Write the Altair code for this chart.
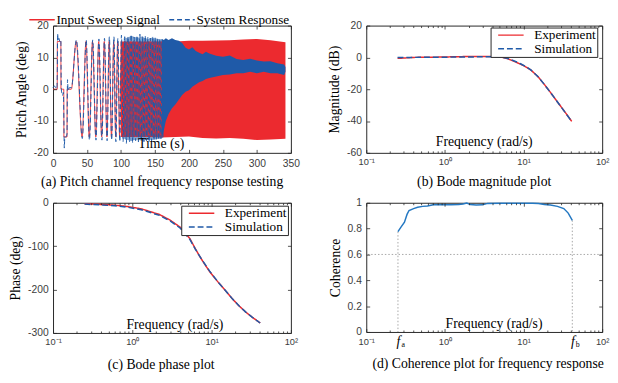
import altair as alt
import pandas as pd

RED = "#ec2a2f"
BLUE = "#1f5aa8"
COH_BLUE = "#2478c2"
DOT_GRAY = "#a6a6a6"
BOX = "#262626"
LABEL_GRAY = "#3c3c3c"
SERIF = "Liberation Serif"
SANS = "Liberation Sans"

# ---------------- (a) pitch channel sweep test ----------------
input_t = [0, 6.2, 6.4, 11.5, 11.7, 15.8, 16.0, 20.6, 20.8, 26.9, 34.1, 42.8, 48.5, 53.3, 58.1,
           62.9, 67.2, 71.6, 75.4, 79.3, 82.6, 86.0, 89.3, 92.2, 95.1, 98.0, 100.4, 102.8, 105.2,
           107.6, 110.0, 112.3, 114.6, 116.8, 119.0, 121.2, 123.3, 125.4, 127.5, 129.5, 131.5,
           133.5, 135.4, 137.3, 139.2, 141.1, 142.9, 144.7, 146.5, 148.3, 150.0, 151.7, 153.4,
           155.1, 156.8, 158.4, 160.0]
input_v = [0, 0, 15, 15, 0, 0, -15, -15, 0, 0, 15, -15, 15, -15, 15,
           -15, 15, -15, 15, -15, 15, -15, 15, -15, 15, -15, 15, -15, 15,
           -15, 15, -15, 15, -15, 15, -15, 15, -15, 15, -15, 15,
           -15, 15, -15, 15, -15, 15, -15, 15, -15, 15, -15, 15,
           -15, 15, -15, 15]
resp_t = [0, 2, 4, 5.6, 6.3, 6.8, 7.4, 8.6, 10.0, 11.5, 12.0, 12.6, 14.0, 15.2, 16.0, 16.6,
          17.3, 19.0, 20.6, 21.3, 22.2, 24.0, 27.0, 34.4, 43.1, 48.8, 53.6, 58.4, 63.2, 67.5,
          71.9, 75.7, 79.6, 82.9, 86.3, 89.6, 92.5, 95.4, 98.3, 100.7, 103.1, 105.5, 107.9, 110.3,
          112.6, 114.9, 117.1, 119.3, 121.5, 123.6, 125.7, 127.8, 129.8, 131.8, 133.8, 135.7,
          137.6, 139.5, 141.4, 143.2, 145.0, 146.8, 148.6, 150.3, 152.0, 153.7, 155.4, 157.1,
          158.7, 160.3]
resp_v = [0.5, 1.0, 0.5, 0.0, 6.0, 17.5, 15.2, 16.0, 15.0, 15.5, 3.0, -1.0, -2.0, -1.0, -10.0,
          -18.5, -15.0, -15.0, -14.0, 3.0, -0.5, 0.5, 0.5, 15.5, -15.5, 15.5, -16.0, 15.5, -16.0,
          15.8, -16.0, 16.0, -16.2, 16.5, -16.0, 16.5, -16.5, 16.0, -16.5, 17.0, -16.5, 16.5,
          -17.0, 16.5,
          -16.5, 17.2, -16.8, 16.4, -16.2, 16.9, -16.6, 17.3, -16.0, 16.6, -16.5, 16.8,
          -16.2, 16.3, -16.6, 16.1, -16.3, 16.5, -16.0, 16.2, -15.8, 16.0, -15.9, 15.8,
          -15.5, 15.6]
# envelope of the dense part of the sweep (input)
in_band_t = [100, 120, 140, 160, 180, 200, 220, 240, 260, 280, 300, 320, 342]
in_band_lo = [-15.0, -15.0, -15.0, -15.2, -15.0, -14.9, -15.3, -15.5, -15.3, -15.6, -16.0, -15.8, -15.6]
in_band_hi = [15.0, 15.0, 15.0, 15.0, 15.0, 15.2, 15.2, 15.3, 15.4, 15.6, 15.8, 15.4, 14.8]
# envelope of the dense part of the response (overlapping the input)
mix_t = [104, 110, 115, 120, 125, 130, 135, 140, 145, 150, 155, 160, 163]
mix_lo = [-15.5, -16.0, -16.3, -16.0, -15.8, -16.2, -16.0, -15.8, -16.0, -15.8, -15.6, -15.5, -15.0]
mix_hi = [16.0, 16.2, 16.8, 16.4, 16.2, 16.6, 16.1, 15.8, 16.2, 16.0, 15.8, 15.6, 15.5]
# envelope of the attenuated response at high frequency
resp_band_t = [160, 163, 166, 170, 175, 180, 185, 190, 195, 200, 205, 210, 215, 220, 225, 230,
               240, 250, 260, 270, 280, 290, 300, 310, 320, 330, 340, 342]
resp_band_lo = [-15.5, -13.0, -10.0, -7.8, -6.0, -4.8, -3.3, -1.8, -0.8, -0.3, 0.8, 1.5, 2.2, 2.6,
                3.2, 3.5, 4.0, 4.5, 4.6, 5.0, 5.0, 5.5, 5.0, 5.5, 5.0, 5.0, 4.5, 5.5]
resp_band_hi = [15.8, 15.5, 16.0, 15.5, 16.0, 15.5, 15.2, 14.5, 13.0, 12.5, 13.2, 12.0, 11.5, 11.0,
                11.8, 11.2, 10.5, 10.2, 10.6, 9.5, 9.2, 9.6, 9.0, 8.7, 8.8, 8.2, 7.8, 7.0]
time_ticks = [0, 50, 100, 150, 200, 250, 300, 350]
pitch_ticks = [-20, -10, 0, 10, 20]

# ---------------- (b), (c) Bode plots ----------------
bode_f = [0.25, 0.3, 0.4, 0.6, 0.86, 1.3, 2.2, 3.0, 4.0, 5.3, 6.2, 7.0, 8.2, 9.4, 11.0, 12.5,
          15.2, 18.4, 22.3, 27.0, 32.7, 41.0]
mag_exp = [-0.6, -0.4, 0.0, 0.1, 0.2, 0.4, 0.6, 0.6, 0.6, 0.2, -0.7, -1.8, -3.2, -4.5, -6.3, -8.1,
           -12.0, -17.0, -22.4, -28.0, -33.5, -40.2]
mag_sim = [0.0, 0.0, 0.0, 0.1, 0.1, 0.2, 0.3, 0.4, 0.4, 0.1, -0.6, -1.5, -2.9, -4.3, -6.2, -8.0,
           -12.0, -17.0, -22.4, -28.0, -33.6, -40.3]
ph_exp = [-2.3, -2.8, -3.8, -5.5, -8.5, -14, -27, -40, -56, -82, -105, -122, -142, -158, -174, -186,
          -204, -222, -238, -252, -264, -277]
ph_sim = [-3.0, -3.8, -5.0, -7.0, -10.0, -16, -29, -42, -58, -84, -106, -122, -141, -157, -173, -186,
          -204, -222, -238, -252, -264, -277]
mag_ticks = [-60, -40, -20, 0, 20]
phase_ticks = [-300, -200, -100, 0]

# ---------------- (d) coherence ----------------
coh_f = [0.253, 0.275, 0.306, 0.33, 0.35, 0.4, 0.45, 0.52, 0.6, 0.71, 0.9, 1.2, 1.5, 1.7, 1.9,
         2.1, 2.5, 3.0, 3.5, 5.0, 7.0, 10.0, 13.0, 15.5, 18.4, 22.0, 27.0, 32.5, 37.0, 41.7]
coh_v = [0.776, 0.81, 0.85, 0.91, 0.94, 0.955, 0.965, 0.972, 0.975, 0.985, 0.985, 0.985, 0.986,
         0.99, 0.998, 0.986, 0.983, 0.984, 0.995, 0.996, 0.996, 0.996, 0.996, 0.995, 0.987, 0.982,
         0.972, 0.955, 0.92, 0.864]
f_a = 0.253
f_b = 41.7
coh_threshold = 0.6
coh_ticks = [0, 0.2, 0.4, 0.6, 0.8, 1]

log_major = [0.1, 1, 10, 100]
log_ticks = log_major + [round(m * d, 6) for d in (0.1, 1, 10) for m in range(2, 10)]
SUP_EXPR = ("datum.value < 0.5 ? '10\u207b\u00b9' : datum.value < 5 ? '10\u2070' : "
            "datum.value < 50 ? '10\u00b9' : '10\u00b2'")
IS_MAJOR = "abs(log(datum.value) / LN10 - round(log(datum.value) / LN10)) < 0.01"

TICK_AXIS = dict(labels=False, domain=False, grid=False, title=None, tickColor=BOX,
                 tickWidth=0.8, zindex=1)
TXT = 14


def x_main(title, title_x, values, label_expr, size=10.5, pad=6, title_y=-5, **extra):
    kw = dict(orient="bottom", values=values, labelExpr=label_expr, ticks=False, domain=False,
              grid=False, labelFlush=False, labelOverlap=False, labelPadding=pad, labelFont=SANS,
              labelFontSize=size, labelColor=LABEL_GRAY, title=title, titleFont=SERIF,
              titleFontSize=TXT, titleFontWeight="normal", titleColor="black", titleX=title_x,
              titleY=title_y, titleBaseline="alphabetic", titleAlign="center", zindex=1)
    kw.update(extra)
    return alt.Axis(**kw)


def y_main(title, values):
    return alt.Axis(orient="left", values=values, labelExpr="'' + datum.value", ticks=False,
                    domain=False, grid=False, labelPadding=5, labelFont=SANS, labelFontSize=10.5,
                    labelColor=LABEL_GRAY, labelFlush=False, labelOverlap=False, title=title,
                    titleFont=SERIF, titleFontSize=TXT, titleFontWeight="normal",
                    titleColor="black", titlePadding=5, zindex=1)


def make_panel(data_layers, xs, ys, xdom, ydom, xaxis, yaxis, xticks, yticks, xlog, W, H,
               caption, cap_dx, cap_offset, extra_layers=()):
    corner = pd.DataFrame({"x": xdom, "y": ydom})
    base = alt.Chart(corner).mark_point(opacity=0)
    xsize = {"condition": {"test": IS_MAJOR, "value": 3.5}, "value": 2} if xlog else 3.5
    layers = [base.encode(x=alt.X("x:Q", scale=xs, axis=xaxis), y=alt.Y("y:Q", scale=ys, axis=yaxis))]
    for xo, yo in (("top", "right"), ("bottom", "left")):
        layers.append(base.encode(
            x=alt.X("x:Q", scale=xs, axis=alt.Axis(orient=xo, offset=-H, values=xticks,
                                                   tickSize=xsize, **TICK_AXIS)),
            y=alt.Y("y:Q", scale=ys, axis=alt.Axis(orient=yo, offset=-W, values=yticks,
                                                   tickSize=3.5, **TICK_AXIS)),
        ))
    layers += list(extra_layers)
    layers += list(data_layers)
    return alt.layer(*layers).resolve_axis(x="independent", y="independent").properties(
        width=W, height=H,
        title=alt.TitleParams(caption, orient="bottom", frame="group", anchor="middle", dx=cap_dx,
                              offset=cap_offset, font=SERIF, fontSize=TXT, fontWeight="normal",
                              color="black"))


LEG_PATH = "M0,0L5.2,0"


def box_legend(x, y):
    return alt.Legend(title=None, orient="none", legendX=x, legendY=y, direction="vertical",
                      symbolType=LEG_PATH, symbolSize=100, symbolStrokeWidth=1.5,
                      labelFont=SERIF, labelFontSize=13.5, labelColor="black", labelOffset=30,
                      rowPadding=-2, padding=1, strokeColor=BOX, fillColor="white", labelLimit=0)


# ---------------- panel (a) ----------------
WA, HA = 243, 130
xs_a = alt.Scale(domain=[0, 350], nice=False, zero=False)
ys_a = alt.Scale(domain=[-20, 20], nice=False)
series_a = ["Input Sweep Signal", "System Response"]
lines_a = pd.concat([
    pd.DataFrame({"t": input_t, "v": input_v, "s": series_a[0]}),
    pd.DataFrame({"t": resp_t, "v": resp_v, "s": series_a[1]}),
])
leg_a = alt.Legend(title=None, orient="none", legendX=-26, legendY=-13, direction="horizontal",
                   symbolType="M-1,0L4.2,0", symbolSize=100, symbolStrokeWidth=1.5,
                   labelFont=SERIF, labelFontSize=13.5, labelColor="black", labelOffset=16,
                   columnPadding=5, padding=0, labelLimit=0)
a_layers = [
    alt.Chart(pd.DataFrame({"t": in_band_t, "lo": in_band_lo, "hi": in_band_hi}))
    .mark_area(color=RED, opacity=1)
    .encode(x=alt.X("t:Q", scale=xs_a, axis=None), y=alt.Y("lo:Q", scale=ys_a, axis=None), y2="hi:Q"),
    alt.Chart(pd.DataFrame({"t": mix_t, "lo": mix_lo, "hi": mix_hi}))
    .mark_area(color=BLUE, opacity=0.55)
    .encode(x=alt.X("t:Q", scale=xs_a, axis=None), y=alt.Y("lo:Q", scale=ys_a, axis=None), y2="hi:Q"),
    alt.Chart(lines_a).mark_line(strokeWidth=1, interpolate="monotone").encode(
        x=alt.X("t:Q", scale=xs_a, axis=None),
        y=alt.Y("v:Q", scale=ys_a, axis=None),
        color=alt.Color("s:N", scale=alt.Scale(domain=series_a, range=[RED, BLUE]), legend=leg_a),
        strokeDash=alt.StrokeDash("s:N", scale=alt.Scale(domain=series_a, range=[[1, 0], [5, 3]]), legend=leg_a),
    ),
    alt.Chart(pd.DataFrame({"t": resp_band_t, "lo": resp_band_lo, "hi": resp_band_hi}))
    .mark_area(color=BLUE, opacity=1)
    .encode(x=alt.X("t:Q", scale=xs_a, axis=None), y=alt.Y("lo:Q", scale=ys_a, axis=None), y2="hi:Q"),
]
panel_a = make_panel(a_layers, xs_a, ys_a, [0, 350], [-20, 20],
                     x_main("Time (s)", 110, time_ticks, "'' + datum.value"),
                     y_main("Pitch Angle (deg)", pitch_ticks),
                     time_ticks, pitch_ticks, False, WA, HA,
                     "(a) Pitch channel frequency response testing", -10, 6.5)

# ---------------- panels (b), (c) ----------------
series_bc = ["Experiment", "Simulation"]
xs_log = alt.Scale(type="log", domain=[0.1, 100], nice=False)


def bode_layer(vals_exp, vals_sim, ys, legend):
    df = pd.concat([
        pd.DataFrame({"f": bode_f, "v": vals_exp, "s": series_bc[0]}),
        pd.DataFrame({"f": bode_f, "v": vals_sim, "s": series_bc[1]}),
    ])
    return alt.Chart(df).mark_line(strokeWidth=1.5).encode(
        x=alt.X("f:Q", scale=xs_log, axis=None),
        y=alt.Y("v:Q", scale=ys, axis=None),
        color=alt.Color("s:N", scale=alt.Scale(domain=series_bc, range=[RED, BLUE]), legend=legend),
        strokeDash=alt.StrokeDash("s:N", scale=alt.Scale(domain=series_bc, range=[[1, 0], [6, 3]]), legend=legend),
    )


WB, HB = 241, 130
ys_b = alt.Scale(domain=[-60, 20], nice=False)
leg_b = box_legend(127, 2)
panel_b = make_panel([bode_layer(mag_exp, mag_sim, ys_b, leg_b)], xs_log, ys_b, [0.1, 100], [-60, 20],
                     x_main("Frequency (rad/s)", 120, log_major, SUP_EXPR, size=9.5, pad=4, title_y=-7),
                     y_main("Magnitude (dB)", mag_ticks),
                     log_ticks, mag_ticks, True, WB, HB, "(b) Bode magnitude plot", 0, 9.5)

WC, HC = 243, 133
ys_c = alt.Scale(domain=[-300, 0], nice=False)
leg_c = box_legend(131, 3)
panel_c = make_panel([bode_layer(ph_exp, ph_sim, ys_c, leg_c)], xs_log, ys_c, [0.1, 100], [-300, 0],
                     x_main("Frequency (rad/s)", 124, log_major, SUP_EXPR, size=9.5, pad=4),
                     y_main("Phase (deg)", phase_ticks),
                     log_ticks, phase_ticks, True, WC, HC, "(c) Bode phase plot", -11, 12)

# ---------------- panel (d) ----------------
WD, HD = 241, 132
ys_d = alt.Scale(domain=[0, 1], nice=False)
IS_F = f"abs(datum.value - {f_a}) < 0.001 || abs(datum.value - {f_b}) < 0.01"
xaxis_d = x_main("Frequency (rad/s)", 130, [0.1, f_a, 1, 10, f_b, 100],
                 f"({IS_F}) ? 'f' : ({SUP_EXPR})", size=9.5,
                 labelPadding={"condition": {"test": IS_F, "value": 3}, "value": 5},
                 labelFont={"condition": {"test": IS_F, "value": SERIF}, "value": SANS},
                 labelFontStyle={"condition": {"test": IS_F, "value": "italic"}, "value": "normal"},
                 labelFontSize={"condition": {"test": IS_F, "value": 14}, "value": 9.5},
                 labelColor={"condition": {"test": IS_F, "value": "black"}, "value": LABEL_GRAY})
sub_layer = alt.Chart(pd.DataFrame({"x": [f_a, f_b], "y": [0, 0]})).mark_point(opacity=0).encode(
    x=alt.X("x:Q", scale=xs_log, axis=alt.Axis(orient="bottom", values=[f_a, f_b],
                                               labelExpr="datum.value < 1 ? 'a' : 'b'",
                                               labelFont=SERIF, labelFontSize=8, labelColor="black",
                                               labelOffset=5, labelPadding=9, ticks=False, domain=False,
                                               grid=False, title=None, labelFlush=False,
                                               labelOverlap=False, zindex=1)),
    y=alt.Y("y:Q", scale=ys_d, axis=None),
)
d_layers = [
    alt.Chart(pd.DataFrame({"thr": [coh_threshold]})).mark_rule(
        color=DOT_GRAY, strokeDash=[1.5, 2], strokeWidth=1).encode(
        y=alt.Y("thr:Q", scale=ys_d, axis=None)),
    alt.Chart(pd.DataFrame({"f": [f_a, f_b], "c": [coh_v[0], coh_v[-1]], "base": [0, 0]})).mark_rule(
        color=DOT_GRAY, strokeDash=[1.5, 2], strokeWidth=1).encode(
        x=alt.X("f:Q", scale=xs_log, axis=None), y=alt.Y("c:Q", scale=ys_d, axis=None), y2="base:Q"),
    alt.Chart(pd.DataFrame({"f": coh_f, "c": coh_v})).mark_line(color=COH_BLUE, strokeWidth=1.5).encode(
        x=alt.X("f:Q", scale=xs_log, axis=None), y=alt.Y("c:Q", scale=ys_d, axis=None)),
]
panel_d = make_panel(d_layers, xs_log, ys_d, [0.1, 100], [0, 1], xaxis_d,
                     y_main("Coherence", coh_ticks), log_ticks, coh_ticks, True, WD, HD,
                     "(d) Coherence plot for frequency response", 4, 8.5,
                     extra_layers=[sub_layer])

chart = alt.concat(panel_a, panel_b, panel_c, panel_d, columns=2, bounds="flush",
                   spacing={"row": 51, "column": 77}).resolve_scale(
    color="independent", strokeDash="independent").configure_view(
    stroke=BOX, strokeWidth=1).properties(
    padding={"left": 0, "top": 0, "right": 0, "bottom": 0})

chart.save("out.html", embed_options={"renderer": "svg", "actions": False})
